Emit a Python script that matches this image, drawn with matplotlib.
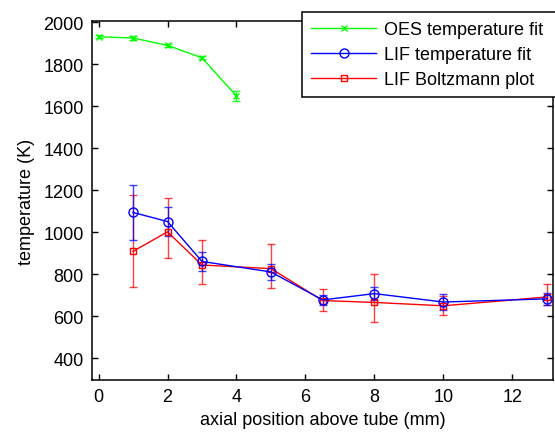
import matplotlib
matplotlib.use("Agg")
import matplotlib.pyplot as plt
import numpy as np

plt.rcParams["font.family"] = ["Liberation Sans", "DejaVu Sans"]
FONTSIZE = 13

# OES temperature fit
oes_x = [0, 1, 2, 3, 4]
oes_y = [1930, 1924, 1889, 1830, 1648]
oes_err = [8, 8, 8, 8, 23]

# LIF temperature fit
lif_x = [1, 2, 3, 5, 6.5, 8, 10, 13]
lif_y = [1094, 1051, 861, 811, 678, 708, 668, 683]
lif_err = [132, 68, 44, 36, 25, 30, 37, 30]

# LIF Boltzmann plot (asymmetric errors)
boltz_x = [1, 2, 3, 5, 6.5, 8, 10, 13]
boltz_y = [909, 1002, 844, 827, 675, 666, 650, 692]
boltz_lo = [169, 125, 92, 94, 48, 94, 42, 40]
boltz_hi = [269, 160, 120, 118, 57, 134, 45, 62]

fig = plt.figure(figsize=(5.55, 4.39), dpi=100)
ax = fig.add_axes([92 / 555, 1 - 381 / 439, (553 - 92) / 555, (381 - 22) / 439])

lw = 1.0
ax.errorbar(oes_x, oes_y, yerr=oes_err, fmt="none", ecolor="#00ff00",
            elinewidth=lw, capsize=3, capthick=lw, alpha=0.85)
ax.errorbar(boltz_x, boltz_y, yerr=[boltz_lo, boltz_hi], fmt="none",
            ecolor="#ff0000", elinewidth=lw, capsize=3, capthick=lw, alpha=0.75)
ax.errorbar(lif_x, lif_y, yerr=lif_err, fmt="none", ecolor="#0000ff",
            elinewidth=lw, capsize=3, capthick=lw, alpha=0.75)

ax.plot(oes_x, oes_y, "-x", color="#00ff00", lw=lw, ms=4, mew=1,
        label="OES temperature fit")
ax.plot(lif_x, lif_y, "-o", color="#0000ff", lw=lw, ms=6.5, mew=1,
        mfc="none", label="LIF temperature fit", zorder=3)
ax.plot(boltz_x, boltz_y, "-s", color="#ff0000", lw=lw, ms=5, mew=1,
        mfc="none", label="LIF Boltzmann plot", zorder=2.5)

ax.set_xlim(-0.19, 13.18)
ax.set_ylim(297, 2005)
ax.set_xticks(np.arange(0, 13, 2))
ax.set_yticks(np.arange(400, 2001, 200))
ax.tick_params(direction="in", length=4, width=1, top=True, right=True,
               labelsize=FONTSIZE, pad=6)
for s in ax.spines.values():
    s.set_linewidth(1.1)

ax.set_xlabel("axial position above tube (mm)", fontsize=FONTSIZE, labelpad=4)
ax.set_ylabel("temperature (K)", fontsize=FONTSIZE, labelpad=6)

# legend box runs past the right edge of the figure, as in the original
leg_x0, leg_top, leg_bot = 302 / 555, 1 - 13 / 439, 1 - 99 / 439
leg = ax.legend(loc="upper left",
                bbox_to_anchor=(leg_x0, leg_bot, 0.5, leg_top - leg_bot),
                bbox_transform=fig.transFigure, borderaxespad=0, mode="expand",
                fontsize=FONTSIZE, numpoints=1, handlelength=3.6,
                handletextpad=0.45, fancybox=False, framealpha=1,
                edgecolor="black", labelspacing=0.45, borderpad=0.5)
leg.get_frame().set_linewidth(1.1)

fig.savefig("out.png", dpi=100)
